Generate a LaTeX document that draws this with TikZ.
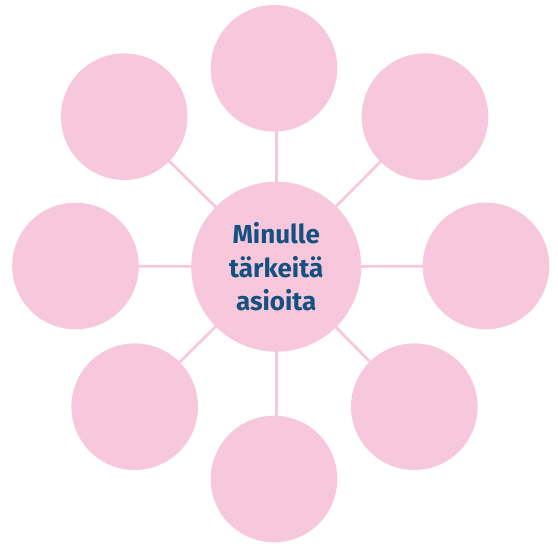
\documentclass[tikz,border=0pt]{standalone}
\usepackage{fontspec}
\setmainfont{Fira Sans}
\usetikzlibrary{backgrounds}
\definecolor{bubble}{RGB}{247,200,220}
\definecolor{ink}{RGB}{20,80,128}
\tikzset{
  hub/.style={circle, fill=bubble, minimum size=170pt, inner sep=0pt,
    align=center, text=ink, font=\bfseries\fontsize{26}{33.3}\selectfont},
  leaf/.style={circle, fill=bubble, minimum size=126.6pt, inner sep=0pt},
  spoke/.style={draw=bubble, line width=2.7pt}
}
\begin{document}
\begin{tikzpicture}[x=1pt,y=1pt]
  \useasboundingbox (0,0) rectangle (558,544);
  % central bubble
  \node[hub] (c) at (276.2,277.3) {Minulle\\tärkeitä\\asioita};
  % surrounding empty bubbles
  \node[leaf] (t)  at (274,475.7) {};
  \node[leaf] (tr) at (425,427.3) {};
  \node[leaf] (r)  at (486,278) {};
  \node[leaf] (br) at (414.3,137.3) {};
  \node[leaf] (b)  at (274,65) {};
  \node[leaf] (bl) at (134.7,137.3) {};
  \node[leaf] (l)  at (75.5,278) {};
  \node[leaf] (tl) at (124.2,427.3) {};
  % spokes behind the bubbles
  \begin{scope}[on background layer]
    \foreach \n in {tr,r,br,bl,l,tl}
      \draw[spoke] (c.center) -- (\n.center);
    \draw[spoke] (c.center) -- (c.center |- t.center);
    \draw[spoke] (c.center) -- (c.center |- b.center);
  \end{scope}
\end{tikzpicture}
\end{document}
